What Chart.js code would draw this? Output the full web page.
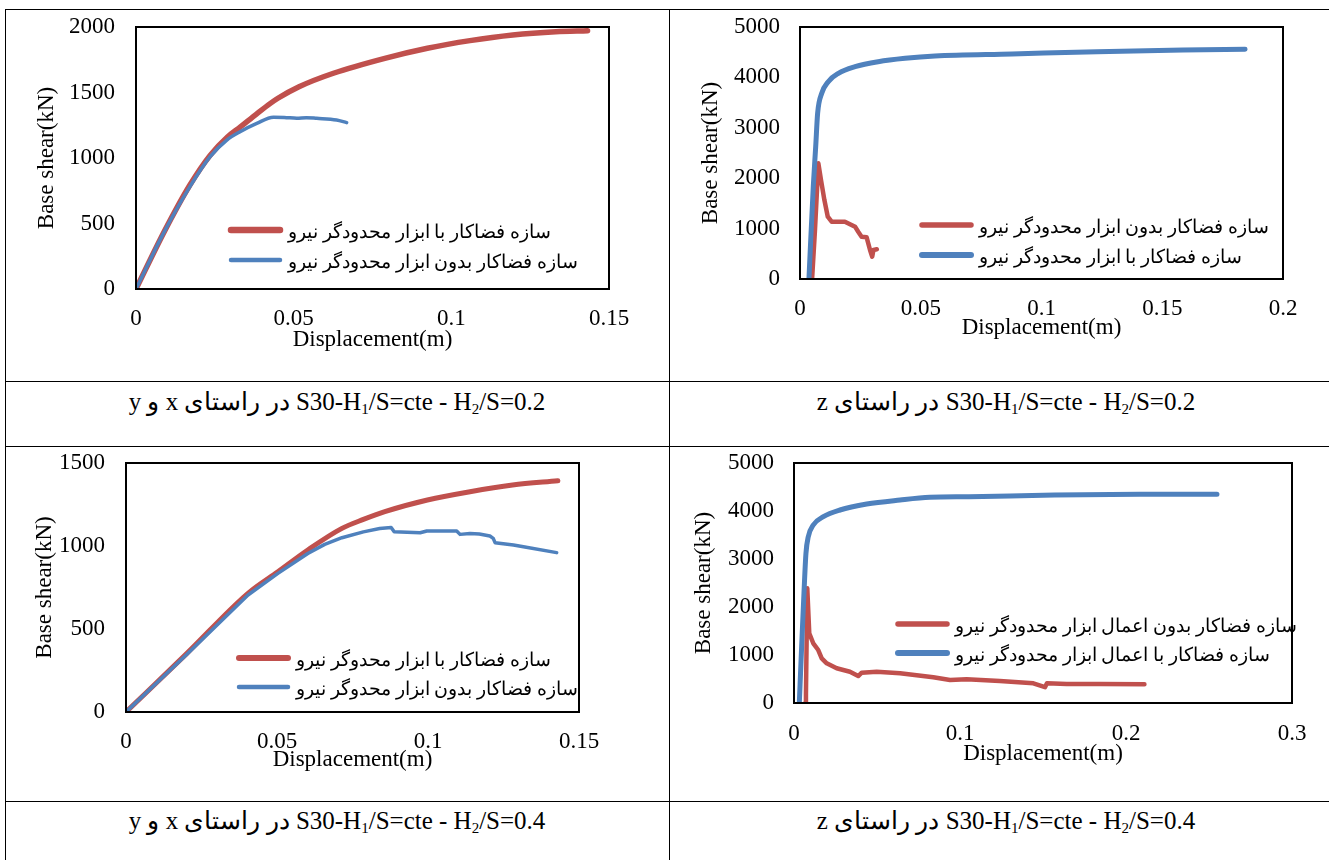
<!DOCTYPE html>
<html>
<head>
<meta charset="utf-8">
<script src="https://cdn.jsdelivr.net/npm/chart.js@4.4.1/dist/chart.umd.min.js"></script>
<style>
  body { margin: 0; background: #fff; }
  #page { position: relative; width: 1329px; height: 860px; overflow: hidden; font-family: 'Liberation Serif', 'Times New Roman', serif; }
  .hl { position: absolute; left: 5px; right: 0; height: 1px; background: #000; }
  .vl { position: absolute; top: 9px; bottom: 0; width: 1px; background: #000; }
  canvas { position: absolute; }
  .cap { position: absolute; font-size: 25px; line-height: 30px; text-align: center; white-space: nowrap; }
  .cap sub { font-size: 15px; vertical-align: -4px; line-height: 0; }
</style>
</head>
<body>
<div id="page">
  <div class="hl" style="top:9px"></div>
  <div class="hl" style="top:381px"></div>
  <div class="hl" style="top:446px"></div>
  <div class="hl" style="top:801px"></div>
  <div class="vl" style="left:5px"></div>
  <div class="vl" style="left:669px"></div>

  <canvas id="c1" width="662" height="370" style="left:6px;top:10px"></canvas>
  <canvas id="c2" width="659" height="370" style="left:670px;top:10px"></canvas>
  <canvas id="c3" width="662" height="353" style="left:6px;top:447px"></canvas>
  <canvas id="c4" width="659" height="353" style="left:670px;top:447px"></canvas>

  <div class="cap" dir="rtl" style="left:5px;width:664px;top:387px">S30-H<sub>1</sub>/S=cte - H<sub>2</sub>/S=0.2 در راستای x و y</div>
  <div class="cap" dir="rtl" style="left:669px;width:674px;top:387px">S30-H<sub>1</sub>/S=cte - H<sub>2</sub>/S=0.2 در راستای z</div>
  <div class="cap" dir="rtl" style="left:5px;width:664px;top:806px">S30-H<sub>1</sub>/S=cte - H<sub>2</sub>/S=0.4 در راستای x و y</div>
  <div class="cap" dir="rtl" style="left:669px;width:674px;top:806px">S30-H<sub>1</sub>/S=cte - H<sub>2</sub>/S=0.4 در راستای z</div>
</div>

<script>
// ---- data: [displacement (m), base shear (kN)] ----
// chart 1: S30, H2/S=0.2, x & y direction
const c1With = [[0,0],[0.009,440],[0.017,790],[0.0235,1020],[0.029,1160],[0.033,1235],[0.0382,1335],[0.0425,1415],[0.045,1456],[0.0517,1544],[0.0626,1647],[0.0789,1761],[0.0924,1838],[0.1059,1896],[0.1195,1939],[0.1331,1964],[0.1432,1972]];
const c1Without = [[0,0],[0.0087,425],[0.0171,781],[0.0235,1010],[0.0288,1137],[0.033,1201],[0.0383,1265],[0.0436,1311],[0.047,1310],[0.051,1303],[0.054,1308],[0.0573,1303],[0.0636,1290],[0.0668,1270]];
// chart 2: S30, H2/S=0.2, z direction
const c2Without = [[0.005,0],[0.0062,970],[0.0076,2295],[0.0087,1964],[0.0101,1567],[0.0115,1236],[0.0131,1137],[0.0186,1137],[0.0228,1038],[0.0241,938],[0.0255,839],[0.0276,827],[0.029,575],[0.0299,442],[0.0304,575],[0.0318,589]];
const c2With = [[0.0037,0],[0.0055,1831],[0.0065,2625],[0.0073,3287],[0.009,3684],[0.0117,3915],[0.0159,4081],[0.0228,4212],[0.0324,4311],[0.0435,4378],[0.0559,4424],[0.0878,4464],[0.123,4510],[0.1586,4543],[0.1843,4557]];
// chart 3: S30, H2/S=0.4, x & y direction
const c3With = [[0,0],[0.02,350],[0.0404,715],[0.0503,845],[0.0602,976],[0.0715,1106],[0.0786,1160],[0.0857,1207],[0.0998,1277],[0.1139,1327],[0.128,1367],[0.143,1393]];
const c3Without = [[0,0],[0.02,345],[0.0404,705],[0.0503,835],[0.0602,955],[0.0658,1010],[0.0715,1050],[0.0786,1085],[0.084,1105],[0.0878,1112],[0.0888,1086],[0.0974,1080],[0.0996,1090],[0.1095,1090],[0.1106,1070],[0.1139,1076],[0.117,1072],[0.1205,1060],[0.1216,1046],[0.1222,1020],[0.1283,1006],[0.1316,996],[0.1426,960]];
// chart 4: S30, H2/S=0.4, z direction
const c4Without = [[0.0068,0],[0.0072,200],[0.008,2390],[0.0092,1452],[0.0116,1244],[0.0146,1104],[0.0167,931],[0.0197,827],[0.0257,723],[0.0337,652],[0.0387,562],[0.0408,631],[0.0498,652],[0.0639,619],[0.0839,535],[0.094,479],[0.104,494],[0.124,458],[0.1442,410],[0.1512,330],[0.1524,410],[0.1643,396],[0.1843,396],[0.2111,390]];
const c4With = [[0.0032,0],[0.0046,1173],[0.006,2285],[0.0072,3118],[0.0086,3465],[0.0116,3708],[0.0177,3881],[0.0277,4021],[0.0438,4145],[0.0639,4229],[0.0819,4285],[0.1054,4298],[0.157,4333],[0.2084,4348],[0.2548,4348]];

// tick labels
const xTicks15 = [0, 0.05, 0.1, 0.15];
const xTicks20 = [0, 0.05, 0.1, 0.15, 0.2];
const xTicks30 = [0, 0.1, 0.2, 0.3];
const yTicks2000 = [0, 500, 1000, 1500, 2000];
const yTicks1500 = [0, 500, 1000, 1500];
const yTicks5000 = [0, 1000, 2000, 3000, 4000, 5000];

// legend labels
const lblWith = 'سازه فضاکار با ابزار محدودگر نیرو';
const lblWithout = 'سازه فضاکار بدون ابزار محدودگر نیرو';
const lblWith3 = 'سازه فضاکار با ابزار محدوگر نیرو';
const lblWithout3 = 'سازه فضاکار بدون ابزار محدوگر نیرو';
const lblWith4 = 'سازه فضاکار با اعمال ابزار محدودگر نیرو';
const lblWithout4 = 'سازه فضاکار بدون اعمال ابزار محدودگر نیرو';

const RED = '#C0504D';
const BLUE = '#4F81BD';
const SERIF = "'Liberation Serif', 'Times New Roman', serif";

Chart.defaults.font.family = SERIF;
Chart.defaults.font.size = 23;
Chart.defaults.color = '#000';

// plot-area frame + legend drawn inside the plot
const frameLegend = {
  id: 'frameLegend',
  afterDraw(chart, args, o) {
    const a = chart.chartArea, ctx = chart.ctx;
    ctx.save();
    ctx.strokeStyle = '#000';
    ctx.lineWidth = 2;
    ctx.strokeRect(a.left, a.top, a.right - a.left, a.bottom - a.top);
    chart.data.datasets.forEach((ds, i) => {
      const x = a.left + o.x, y = a.top + o.y + i * o.gap;
      ctx.beginPath();
      ctx.lineCap = 'round';
      ctx.strokeStyle = ds.borderColor;
      ctx.lineWidth = ds.borderWidth + 1;
      ctx.moveTo(x + 2, y);
      ctx.lineTo(x + 51, y);
      ctx.stroke();
      ctx.fillStyle = '#000';
      ctx.font = o.fontSize + 'px ' + SERIF;
      ctx.textAlign = 'left';
      ctx.textBaseline = 'middle';
      ctx.fillText(ds.label, x + 59, y + 3);
    });
    ctx.restore();
  }
};

function plot(id, s) {
  new Chart(document.getElementById(id), {
    type: 'line',
    data: {
      datasets: s.series.map(d => ({
        label: d.label,
        data: d.points.map(p => ({ x: p[0], y: p[1] })),
        borderColor: d.color,
        backgroundColor: d.color,
        borderWidth: d.width,
        order: d.order,
        pointRadius: 0,
        tension: 0,
        cubicInterpolationMode: d.smooth ? 'monotone' : 'default',
        fill: false,
        borderCapStyle: 'round',
        borderJoinStyle: 'round'
      }))
    },
    options: {
      responsive: false,
      animation: false,
      events: [],
      layout: { padding: { left: 0, top: s.top, right: s.right, bottom: 0 } },
      plugins: {
        legend: { display: false },
        tooltip: { enabled: false },
        frameLegend: s.legend
      },
      scales: {
        x: {
          type: 'linear',
          min: s.xTicks[0],
          max: s.xTicks[s.xTicks.length - 1],
          grid: { display: false, drawTicks: false },
          border: { display: false },
          ticks: { padding: s.xPad, maxRotation: 0, callback: v => String(v) },
          afterBuildTicks: sc => { sc.ticks = s.xTicks.map(v => ({ value: v })); },
          afterFit: sc => { sc.height = s.xHeight; sc.paddingLeft = 0; sc.paddingRight = 0; },
          title: { display: true, text: 'Displacement(m)', padding: { top: 0, bottom: s.xTitlePad } }
        },
        y: {
          type: 'linear',
          min: s.yTicks[0],
          max: s.yTicks[s.yTicks.length - 1],
          grid: { display: false, drawTicks: false },
          border: { display: false },
          ticks: { padding: s.yPad, callback: v => String(v) },
          afterBuildTicks: sc => { sc.ticks = s.yTicks.map(v => ({ value: v })); },
          afterFit: sc => { sc.width = s.yWidth; sc.paddingTop = 0; sc.paddingBottom = 0; },
          title: { display: true, text: 'Base shear(kN)', padding: { top: s.yTitlePad, bottom: 0 } }
        }
      }
    },
    plugins: [frameLegend]
  });
}

plot('c1', {
  series: [
    { label: lblWith, points: c1With, color: RED, width: 5.5, order: 1, smooth: true },
    { label: lblWithout, points: c1Without, color: BLUE, width: 3.5, order: 0, smooth: true }
  ],
  xTicks: xTicks15, yTicks: yTicks2000,
  top: 17, right: 59, yWidth: 130, xHeight: 91,
  xPad: 16, yPad: 21, xTitlePad: 26, yTitlePad: 27,
  legend: { x: 93, y: 203, gap: 30, fontSize: 19 }
});

plot('c2', {
  series: [
    { label: lblWithout, points: c2Without, color: RED, width: 4.5, order: 1, smooth: false },
    { label: lblWith, points: c2With, color: BLUE, width: 5, order: 0, smooth: true }
  ],
  xTicks: xTicks20, yTicks: yTicks5000,
  top: 17, right: 46, yWidth: 130, xHeight: 101,
  xPad: 16, yPad: 20, xTitlePad: 38, yTitlePad: 27,
  legend: { x: 120, y: 198, gap: 30, fontSize: 19 }
});

plot('c3', {
  series: [
    { label: lblWith3, points: c3With, color: RED, width: 5, order: 1, smooth: true },
    { label: lblWithout3, points: c3Without, color: BLUE, width: 3.5, order: 0, smooth: false }
  ],
  xTicks: xTicks15, yTicks: yTicks1500,
  top: 16, right: 89, yWidth: 120, xHeight: 88,
  xPad: 16, yPad: 21, xTitlePad: 26, yTitlePad: 25,
  legend: { x: 111, y: 195, gap: 29, fontSize: 19 }
});

plot('c4', {
  series: [
    { label: lblWithout4, points: c4Without, color: RED, width: 4.5, order: 1, smooth: false },
    { label: lblWith4, points: c4With, color: BLUE, width: 5, order: 0, smooth: true }
  ],
  xTicks: xTicks30, yTicks: yTicks5000,
  top: 16, right: 37, yWidth: 124, xHeight: 97,
  xPad: 17, yPad: 20, xTitlePad: 32, yTitlePad: 20,
  legend: { x: 102, y: 161, gap: 29, fontSize: 19 }
});
</script>
</body>
</html>
